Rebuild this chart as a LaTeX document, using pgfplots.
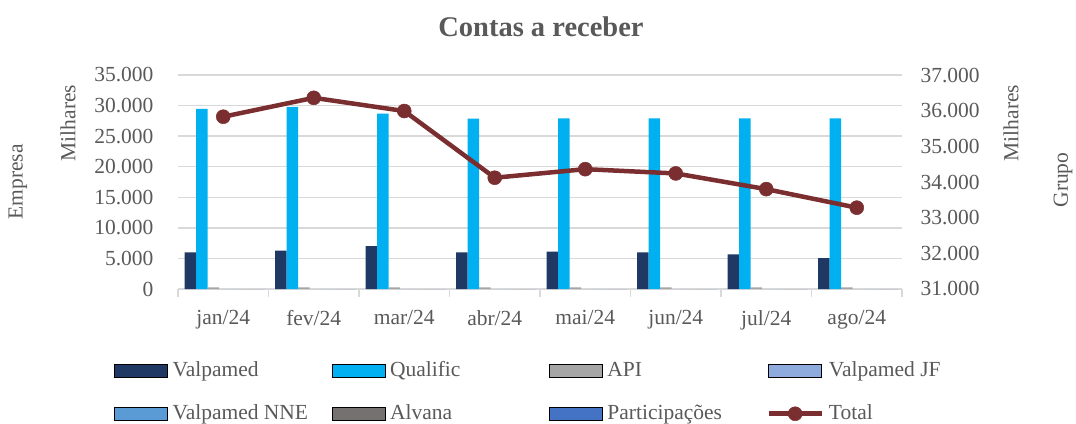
\documentclass[border=0pt]{standalone}
\usepackage{fontspec}
\setmainfont{Liberation Serif}
\usepackage{pgfplots}
\usepackage{pgfplotstable}
\pgfplotsset{compat=1.18}
\definecolor{txtgray}{HTML}{595959}
\definecolor{gridgray}{HTML}{D9D9D9}
\definecolor{c1}{HTML}{203864}
\definecolor{c2}{HTML}{00B0F0}
\definecolor{c3}{HTML}{A5A5A5}
\definecolor{c4}{HTML}{8FAADC}
\definecolor{c5}{HTML}{5B9BD5}
\definecolor{c6}{HTML}{767171}
\definecolor{c7}{HTML}{4472C4}
\definecolor{ctot}{HTML}{7B2E2F}
\newcommand{\fs}{\fontsize{21.5}{25}\selectfont}
\pgfplotstableread{
x valpamed qualific api jf nne alvana part total
0 6000 29450 250 0 0 0 0 35830
1 6270 29800 250 0 0 0 0 36360
2 7030 28680 250 0 0 0 0 35990
3 6000 27860 250 0 0 0 0 34120
4 6100 27900 250 0 0 0 0 34360
5 6000 27900 250 0 0 0 0 34240
6 5670 27900 250 0 0 0 0 33800
7 5070 27900 250 0 0 0 0 33280
}\data
\pgfplotsset{
  barleg/.style={legend image code/.code={\fill[##1] (0pt,-6.5pt) rectangle (53pt,6.5pt);}},
  totleg/.style={legend image code/.code={\draw[##1, mark=none] (0pt,0pt) -- (53pt,0pt); \draw[##1, only marks] plot coordinates {(26.5pt,0pt)};}},
  common/.style={
    at={(0pt,0pt)}, anchor=south west,
    scale only axis, width=724pt, height=214pt,
    xmin=-0.5, xmax=7.5,
    major tick length=0pt,
    scaled y ticks=false,
    /pgf/number format/fixed,
    /pgf/number format/1000 sep={.},
    /pgf/number format/assume math mode=true,
    ticklabel style={font=\fs, text=txtgray},
    y axis line style={draw=none},
  }
}
\begin{document}
\begin{tikzpicture}
\useasboundingbox (-178pt,-134pt) rectangle (898pt,289pt);
\begin{axis}[common,
  ymin=0, ymax=35000,
  axis y line*=left, axis x line*=bottom,
  x axis line style={draw=gridgray, line width=1.3pt, -},
  xtick={0,...,7},
  xticklabels={jan/24,fev/24,mar/24,abr/24,mai/24,jun/24,jul/24,ago/24},
  xticklabel style={yshift=-18pt},
  minor xtick={-0.5,0.5,...,7.5},
  minor tick length=8pt, tick align=outside,
  minor x tick style={draw=gridgray, line width=1.3pt},
  ytick={0,5000,...,35000},
  yticklabel style={xshift=-21pt},
  ymajorgrids, grid style={draw=gridgray, line width=1.3pt},
  ybar, bar width=0.127,
]
\addplot[fill=c1, draw=none, bar shift=-0.362] table[x=x,y=valpamed]{\data};
\addplot[fill=c2, draw=none, bar shift=-0.235] table[x=x,y=qualific]{\data};
\addplot[fill=c3, draw=none, bar shift=-0.108] table[x=x,y=api]{\data};
\addplot[fill=c4, draw=none, bar shift=0.019] table[x=x,y=jf]{\data};
\addplot[fill=c5, draw=none, bar shift=0.146] table[x=x,y=nne]{\data};
\addplot[fill=c6, draw=none, bar shift=0.273] table[x=x,y=alvana]{\data};
\addplot[fill=c7, draw=none, bar shift=0.400] table[x=x,y=part]{\data};
\end{axis}
\begin{axis}[common,
  ymin=31000, ymax=37000,
  axis x line=none, axis y line*=right,
  ytick={31000,32000,...,37000},
  yticklabel style={xshift=15pt},
  legend columns=4,
  legend style={at={(axis description cs:-0.0884,-0.332)}, anchor=north west,
    draw=none, fill=none, inner sep=0pt, row sep=22pt, column sep=0pt,
    nodes={inner sep=0pt, text height=16pt, text depth=5pt, font=\fs, text=txtgray},
    /tikz/every odd column/.append style={column sep=5pt}},
]
\addlegendimage{barleg, fill=c1}
\addlegendimage{barleg, fill=c2}
\addlegendimage{barleg, fill=c3}
\addlegendimage{barleg, fill=c4}
\addlegendimage{barleg, fill=c5}
\addlegendimage{barleg, fill=c6}
\addlegendimage{barleg, fill=c7}
\addplot[ctot, line width=4.5pt, mark=*, mark size=7pt,
  mark options={fill=ctot, draw=ctot, line width=0.5pt}, totleg]
  table[x=x,y=total]{\data};
\legend{\makebox[159pt][l]{Valpamed},\makebox[159pt][l]{Qualific},\makebox[159pt][l]{API},\makebox[159pt][l]{Valpamed JF},
  \makebox[159pt][l]{Valpamed NNE},\makebox[159pt][l]{Alvana},\makebox[159pt][l]{Participações},\makebox[159pt][l]{Total}}
\end{axis}
\node[font=\bfseries\fontsize{28.5}{32}\selectfont, text=txtgray] at (363pt,262pt) {Contas a receber};
\node[font=\fs, text=txtgray, rotate=90] at (-160pt,107pt) {Empresa};
\node[font=\fs, text=txtgray, rotate=90] at (-110pt,166pt) {Milhares};
\node[font=\fs, text=txtgray, rotate=90] at (833pt,166pt) {Milhares};
\node[font=\fs, text=txtgray, rotate=90] at (885pt,109pt) {Grupo};
\end{tikzpicture}
\end{document}
